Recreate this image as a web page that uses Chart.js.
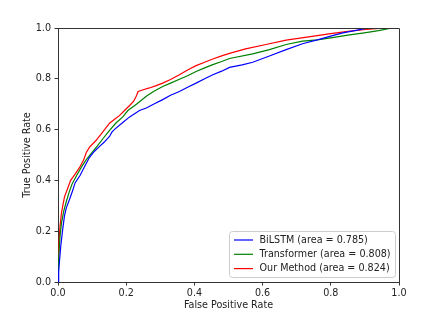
<!DOCTYPE html>
<html lang="en">
<head>
  <meta charset="UTF-8">
  <title>ROC Curves</title>
  <style>
    body {
      margin: 0;
      background: #fff;
      overflow: hidden;
    }
    #wrap {
      width: 428px;
      height: 326px;
    }
  </style>
  <script src="https://cdn.jsdelivr.net/npm/chart.js"></script>
</head>
<body>
  <div id="wrap">
    <canvas id="myChart" width="428" height="326"></canvas>
  </div>

  <script>
    // ROC points (false positive rate / true positive rate)
    const seriesNames = ['BiLSTM (area = 0.785)', 'Transformer (area = 0.808)', 'Our Method (area = 0.824)'];
    const seriesColors = ['#0000ff', '#008000', '#ff0000'];

    const bilstmFpr = [0, 0.002, 0.004, 0.008, 0.014, 0.019, 0.024, 0.035, 0.043, 0.05, 0.065, 0.08, 0.092, 0.107, 0.122, 0.135, 0.151, 0.158, 0.165, 0.19, 0.21, 0.239, 0.259, 0.28, 0.307, 0.33, 0.356, 0.38, 0.405, 0.43, 0.454, 0.48, 0.503, 0.54, 0.571, 0.62, 0.669, 0.717, 0.766, 0.805, 0.835, 0.87, 0.91, 1];
    const bilstmTpr = [0, 0.04, 0.076, 0.14, 0.21, 0.26, 0.29, 0.33, 0.36, 0.39, 0.42, 0.46, 0.49, 0.515, 0.534, 0.55, 0.573, 0.59, 0.6, 0.628, 0.65, 0.675, 0.685, 0.7, 0.718, 0.735, 0.75, 0.767, 0.783, 0.8, 0.816, 0.83, 0.845, 0.855, 0.865, 0.89, 0.915, 0.938, 0.955, 0.97, 0.981, 0.99, 1.0, 1];

    const transformerFpr = [0, 0.001, 0.003, 0.006, 0.01, 0.017, 0.025, 0.033, 0.041, 0.055, 0.07, 0.083, 0.1, 0.115, 0.131, 0.15, 0.17, 0.19, 0.205, 0.23, 0.259, 0.28, 0.307, 0.33, 0.356, 0.38, 0.405, 0.43, 0.454, 0.48, 0.503, 0.571, 0.62, 0.669, 0.717, 0.76, 0.805, 0.85, 0.903, 0.94, 0.98, 1];
    const transformerTpr = [0, 0.06, 0.12, 0.18, 0.23, 0.28, 0.32, 0.355, 0.385, 0.42, 0.455, 0.482, 0.51, 0.535, 0.563, 0.595, 0.626, 0.65, 0.675, 0.7, 0.731, 0.75, 0.77, 0.783, 0.798, 0.812, 0.829, 0.843, 0.856, 0.868, 0.88, 0.898, 0.915, 0.935, 0.948, 0.953, 0.962, 0.972, 0.982, 0.99, 1.0, 1];

    const ourFpr = [0, 0.001, 0.003, 0.006, 0.01, 0.014, 0.019, 0.026, 0.037, 0.045, 0.063, 0.075, 0.083, 0.092, 0.11, 0.131, 0.151, 0.165, 0.18, 0.195, 0.21, 0.222, 0.229, 0.235, 0.25, 0.268, 0.288, 0.307, 0.33, 0.356, 0.38, 0.405, 0.43, 0.454, 0.48, 0.503, 0.55, 0.61, 0.669, 0.74, 0.805, 0.85, 0.903, 0.96, 1];
    const ourTpr = [0, 0.08, 0.16, 0.22, 0.27, 0.3, 0.335, 0.36, 0.4, 0.415, 0.45, 0.48, 0.51, 0.53, 0.555, 0.59, 0.625, 0.64, 0.655, 0.675, 0.695, 0.712, 0.73, 0.75, 0.757, 0.764, 0.773, 0.783, 0.797, 0.816, 0.835, 0.852, 0.865, 0.878, 0.89, 0.9, 0.918, 0.935, 0.952, 0.966, 0.979, 0.987, 0.994, 1.0, 1];

    const axisTicks = [0, 0.2, 0.4, 0.6, 0.8, 1.0];

    const fontFamily = "'DejaVu Sans', sans-serif";
    const fontSize = 9.6;

    function toPoints(xs, ys) {
      return xs.map((x, i) => ({ x: x, y: ys[i] }));
    }

    // top/right frame lines and the legend box inside the plot
    const framePlugin = {
      id: 'frame',
      afterDraw(chart) {
        const ctx = chart.ctx;
        const a = chart.chartArea;
        ctx.save();
        ctx.strokeStyle = '#333';
        ctx.lineWidth = 1;
        ctx.beginPath();
        ctx.moveTo(a.left, a.top + 0.5);
        ctx.lineTo(a.right + 0.5, a.top + 0.5);
        ctx.lineTo(a.right + 0.5, a.bottom);
        ctx.stroke();

        // legend
        const bx = 229.5, by = 231.5, bw = 166, bh = 46, r = 3;
        ctx.fillStyle = 'rgba(255,255,255,0.8)';
        ctx.strokeStyle = '#cccccc';
        ctx.beginPath();
        ctx.moveTo(bx + r, by);
        ctx.lineTo(bx + bw - r, by);
        ctx.quadraticCurveTo(bx + bw, by, bx + bw, by + r);
        ctx.lineTo(bx + bw, by + bh - r);
        ctx.quadraticCurveTo(bx + bw, by + bh, bx + bw - r, by + bh);
        ctx.lineTo(bx + r, by + bh);
        ctx.quadraticCurveTo(bx, by + bh, bx, by + bh - r);
        ctx.lineTo(bx, by + r);
        ctx.quadraticCurveTo(bx, by, bx + r, by);
        ctx.closePath();
        ctx.fill();
        ctx.stroke();

        ctx.font = fontSize + 'px ' + fontFamily;
        ctx.textBaseline = 'middle';
        ctx.textAlign = 'left';
        seriesNames.forEach((name, i) => {
          const yy = 240 + i * 14.3;
          ctx.strokeStyle = seriesColors[i];
          ctx.lineWidth = 1.2;
          ctx.beginPath();
          ctx.moveTo(234, yy);
          ctx.lineTo(253, yy);
          ctx.stroke();
          ctx.fillStyle = '#222';
          ctx.fillText(name, 259.5, yy);
        });
        ctx.restore();
      }
    };

    const ctx = document.getElementById('myChart').getContext('2d');

    const makeDataset = (i, xs, ys) => ({
      label: seriesNames[i],
      data: toPoints(xs, ys),
      borderColor: seriesColors[i],
      backgroundColor: seriesColors[i],
      borderWidth: 1.2,
      pointRadius: 0,
      tension: 0,
      fill: false
    });

    const chart = new Chart(ctx, {
      type: 'line',
      data: {
        datasets: [
          makeDataset(0, bilstmFpr, bilstmTpr),
          makeDataset(1, transformerFpr, transformerTpr),
          makeDataset(2, ourFpr, ourTpr)
        ]
      },
      options: {
        responsive: false,
        animation: false,
        layout: {
          padding: { left: 0, right: 29, top: 28, bottom: 0 }
        },
        plugins: {
          legend: { display: false },
          tooltip: { enabled: false }
        },
        scales: {
          x: {
            type: 'linear',
            min: 0,
            max: 1,
            afterFit(scale) { scale.height = 44; },
            afterBuildTicks(scale) { scale.ticks = axisTicks.map(v => ({ value: v })); },
            grid: { drawOnChartArea: false, drawTicks: true, tickLength: 3.5, color: '#333' },
            border: { display: true, color: '#333', width: 1 },
            ticks: {
              padding: 2,
              color: '#222',
              maxRotation: 0,
              font: { family: fontFamily, size: fontSize },
              callback: v => Number(v).toFixed(1)
            },
            title: {
              display: true,
              text: 'False Positive Rate',
              color: '#222',
              padding: { top: 0, bottom: 15 },
              font: { family: fontFamily, size: fontSize }
            }
          },
          y: {
            type: 'linear',
            min: 0,
            max: 1,
            afterFit(scale) { scale.width = 58; },
            afterBuildTicks(scale) { scale.ticks = axisTicks.map(v => ({ value: v })); },
            grid: { drawOnChartArea: false, drawTicks: true, tickLength: 3.5, color: '#333' },
            border: { display: true, color: '#333', width: 1 },
            ticks: {
              padding: 3.5,
              color: '#222',
              font: { family: fontFamily, size: fontSize },
              callback: v => Number(v).toFixed(1)
            },
            title: {
              display: true,
              text: 'True Positive Rate',
              color: '#222',
              padding: { top: 21.5, bottom: 0 },
              font: { family: fontFamily, size: fontSize }
            }
          }
        }
      },
      plugins: [framePlugin]
    });
  </script>
</body>
</html>
